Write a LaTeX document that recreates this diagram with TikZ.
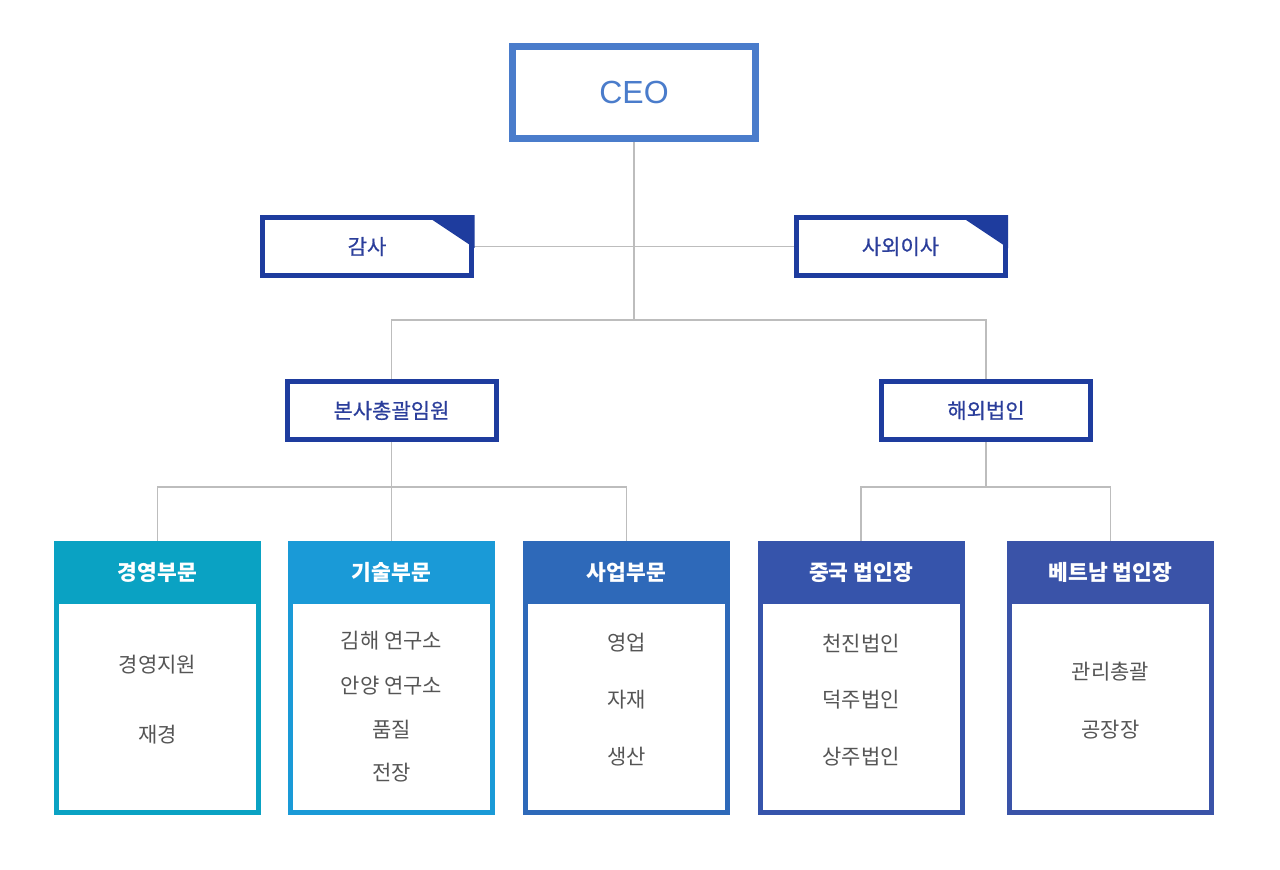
\documentclass[tikz,border=0pt]{standalone}
\usepackage{fontspec}
\setmainfont{Noto Sans CJK KR}
\newfontfamily\latinfont{Liberation Sans}
\newfontfamily\midfont[FakeBold=0.6]{Noto Sans CJK KR}
\usetikzlibrary{backgrounds}
\definecolor{ceoblue}{HTML}{4A7CCB}
\definecolor{midblue}{HTML}{1E3C9E}
\definecolor{midtext}{HTML}{2B3E9B}
\definecolor{bodytext}{HTML}{555555}
\definecolor{connc}{HTML}{BDBDBD}
\definecolor{hA}{HTML}{0AA2C3}
\definecolor{hB}{HTML}{1A9AD7}
\definecolor{hC}{HTML}{2E69B9}
\definecolor{hD}{HTML}{3654AB}
\definecolor{hE}{HTML}{3A53A8}
\tikzset{
  ceobox/.style={draw=ceoblue, line width=7pt, fill=white, minimum width=243pt, minimum height=92pt, inner sep=0pt, text=ceoblue, font=\latinfont\fontsize{32}{36}\selectfont},
  midbox/.style={draw=midblue, line width=5pt, fill=white, minimum width=209pt, minimum height=58pt, inner sep=0pt, text=midtext, font=\midfont\fontsize{21}{24}\selectfont},
  bodybox/.style={draw=#1, line width=5pt, fill=white, minimum width=202pt, minimum height=269pt, inner sep=0pt},
  headbox/.style={fill=#1, minimum width=207pt, minimum height=63pt, inner sep=0pt, text=white, font=\bfseries\fontsize{21.5}{24}\selectfont},
  item/.style={text=bodytext, inner sep=0pt, font=\fontsize{21}{24}\selectfont},
  conn/.style={draw=connc, line width=1.6pt},
}
\begin{document}
\begin{tikzpicture}[x=1pt,y=-1pt]
\useasboundingbox (0,0) rectangle (1280,870);
% top
\node[ceobox] (ceo) at (634,92.5) {CEO};
\node[midbox] (gamsa) at (367,246.5) {감사};
\node[midbox] (saoe) at (900.5,246.5) {사외이사};
\fill[midblue] (425,215) -- (474.5,215) -- (474.5,248) -- cycle;
\fill[midblue] (958.5,215) -- (1008,215) -- (1008,248) -- cycle;
\node[midbox] (bonsa) at (391.5,410.5) {본사총괄임원};
\node[midbox] (haeoe) at (986,410.5) {해외법인};
% bottom boxes
\node[bodybox=hA] (bA) at (157.5,678) {};
\node[headbox=hA] (hdA) at (157.5,572.5) {경영부문};
\node[bodybox=hB] (bB) at (391.5,678) {};
\node[headbox=hB] (hdB) at (391.5,572.5) {기술부문};
\node[bodybox=hC] (bC) at (626.5,678) {};
\node[headbox=hC] (hdC) at (626.5,572.5) {사업부문};
\node[bodybox=hD] (bD) at (861,678) {};
\node[headbox=hD] (hdD) at (861,572.5) {중국 법인장};
\node[bodybox=hE] (bE) at (1110.5,678) {};
\node[headbox=hE] (hdE) at (1110.5,572.5) {베트남 법인장};
% items
\node[item] (a1) at (157.5,665) {경영지원};
\node[item] (a2) at (157.5,735) {재경};
\node[item] (b1) at (391.5,641) {김해 연구소};
\node[item] (b2) at (391.5,686) {안양 연구소};
\node[item] (b3) at (391.5,730) {품질};
\node[item] (b4) at (391.5,773) {전장};
\node[item] (c1) at (626.5,643) {영업};
\node[item] (c2) at (626.5,700) {자재};
\node[item] (c3) at (626.5,757) {생산};
\node[item] (d1) at (861,643) {천진법인};
\node[item] (d2) at (861,700) {덕주법인};
\node[item] (d3) at (861,757) {상주법인};
\node[item] (e1) at (1110.5,672) {관리총괄};
\node[item] (e2) at (1110.5,730) {공장장};
% connectors
\coordinate (j1) at (634,320);
\coordinate (j2) at (391.5,487);
\coordinate (j3) at (986,487);
\begin{scope}[on background layer]
\fill[white] (0,0) rectangle (1280,870);
\draw[conn] (ceo.south) -- (j1);
\draw[conn] (gamsa.east) -- (saoe.west);
\draw[conn] (bonsa.north) |- (j1) -| (haeoe.north);
\draw[conn] (bonsa.south) -- (j2);
\draw[conn] (hdA.north) |- (j2) -| (hdC.north);
\draw[conn] (hdB.north) -- (j2);
\draw[conn] (haeoe.south) -- (j3);
\draw[conn] (hdD.north) |- (j3) -| (hdE.north);
\end{scope}
\end{tikzpicture}
\end{document}
